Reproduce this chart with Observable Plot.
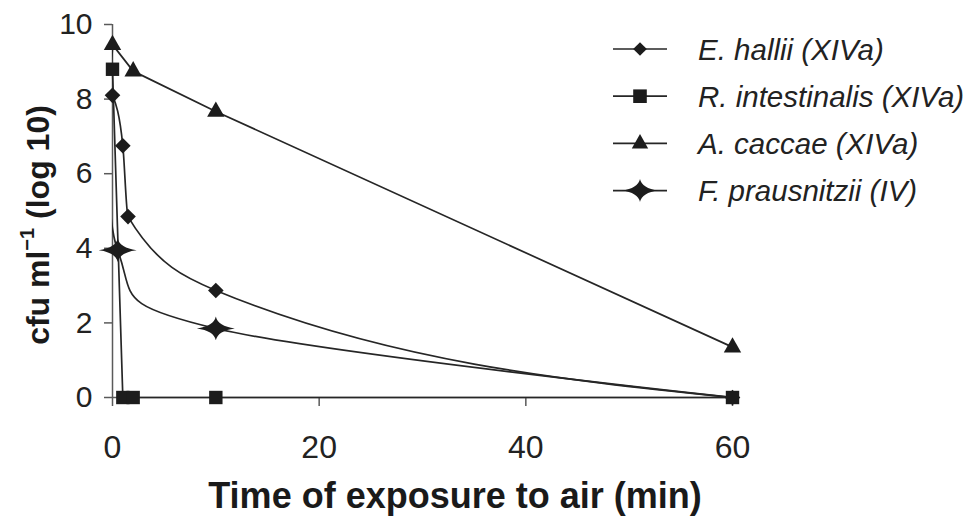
<!DOCTYPE html>
<html>
<head>
<meta charset="utf-8">
<script src="https://cdn.jsdelivr.net/npm/d3@7"></script>
<script src="https://cdn.jsdelivr.net/npm/@observablehq/plot@0.6"></script>
<style>
  html, body { margin: 0; padding: 0; background: #fff; }
  #chart { position: relative; width: 973px; height: 528px; }
</style>
</head>
<body>
<div id="chart"></div>
<script>
// Survival of anaerobic gut bacteria after exposure to air
const seriesNames = ["E. hallii (XIVa)", "R. intestinalis (XIVa)", "A. caccae (XIVa)", "F. prausnitzii (IV)"];

const halliiTime = [0, 1, 1.5, 10, 60];
const halliiCfu = [8.1, 6.75, 4.85, 2.87, 0];

const intestinalisTime = [0, 1, 2, 10, 60];
const intestinalisCfu = [8.8, 0, 0, 0, 0];

const caccaeTime = [0, 2, 10, 60];
const caccaeCfu = [9.46, 8.75, 7.67, 1.35];

const prausnitziiTime = [0, 0.5, 10, 60];
const prausnitziiCfu = [9.35, 3.95, 1.85, 0];

const xTicks = [0, 20, 40, 60];
const yTicks = [0, 2, 4, 6, 8, 10];

const toRows = (times, values) => times.map((t, i) => ({time: t, cfu: values[i]}));
const hallii = toRows(halliiTime, halliiCfu);
const intestinalis = toRows(intestinalisTime, intestinalisCfu);
const caccae = toRows(caccaeTime, caccaeCfu);
const prausnitzii = toRows(prausnitziiTime, prausnitziiCfu);

// Marker shapes; r is the half-extent in pixels
const half = (size) => Math.sqrt(size / Math.PI);
const diamondShape = {draw(ctx, size) {
  const r = half(size);
  ctx.moveTo(0, -r); ctx.lineTo(r, 0); ctx.lineTo(0, r); ctx.lineTo(-r, 0); ctx.closePath();
}};
const squareShape = {draw(ctx, size) {
  const r = half(size);
  ctx.rect(-r, -r, 2 * r, 2 * r);
}};
const triangleShape = {draw(ctx, size) {
  const r = half(size);
  ctx.moveTo(0, -1.15 * r); ctx.lineTo(r, 0.62 * r); ctx.lineTo(-r, 0.62 * r); ctx.closePath();
}};
const starShape = {draw(ctx, size) {
  const r = half(size), w = 2 * r, h = 1.25 * r, c = 0.22 * r;
  ctx.moveTo(w, 0);
  ctx.quadraticCurveTo(c, c, 0, h);
  ctx.quadraticCurveTo(-c, c, -w, 0);
  ctx.quadraticCurveTo(-c, -c, 0, -h);
  ctx.quadraticCurveTo(c, -c, w, 0);
  ctx.closePath();
}};

const ink = "#1c1c1c";
const axisGray = "#5a5a5a";
const font = "'Liberation Sans', Arial, sans-serif";

const lineStyle = {x: "time", y: "cfu", stroke: "#262626", strokeWidth: 1.7};
const dotStyle = {x: "time", y: "cfu", fill: ink, stroke: "none"};

const chart = Plot.plot({
  width: 973,
  height: 528,
  marginLeft: 112,
  marginRight: 241,
  marginTop: 24,
  marginBottom: 131,
  style: {fontFamily: font, color: "#222", background: "#fff", overflow: "visible"},
  x: {domain: [0, 60]},
  y: {domain: [0, 10]},
  marks: [
    Plot.ruleX([0], {stroke: axisGray, strokeWidth: 1.5}),
    Plot.ruleY([0], {stroke: axisGray, strokeWidth: 1.5}),
    Plot.axisX({ticks: xTicks, tickSize: 9, tickPadding: 29, fontSize: 32, label: null, stroke: axisGray, strokeWidth: 1.5, fill: "#222"}),
    Plot.axisY({ticks: yTicks, tickSize: 8, tickPadding: 12, fontSize: 30, label: null, stroke: axisGray, strokeWidth: 1.5, fill: "#222"}),
    // smoothed curves for the two gradual decays, straight segments otherwise
    Plot.line(hallii, {...lineStyle, curve: "monotone-x"}),
    Plot.line(prausnitzii, {...lineStyle, curve: "cardinal", tension: 0, clip: true}),
    Plot.line(caccae, {...lineStyle}),
    Plot.line(intestinalis, {...lineStyle}),
    // end points of the F. prausnitzii series carry no marker
    Plot.dot(prausnitzii.slice(1, -1), {...dotStyle, symbol: starShape, r: 9.5}),
    Plot.dot(hallii, {...dotStyle, symbol: diamondShape, r: 7.8}),
    Plot.dot(caccae, {...dotStyle, symbol: triangleShape, r: 8.7}),
    Plot.dot(intestinalis, {...dotStyle, symbol: squareShape, r: 6.7})
  ]
});

const svg = d3.select(chart);

// Axis titles
svg.append("text")
  .attr("x", 455).attr("y", 508)
  .attr("text-anchor", "middle")
  .attr("font-family", font).attr("font-weight", "bold").attr("font-size", 36)
  .attr("fill", "#1a1a1a")
  .text("Time of exposure to air (min)");

const yTitle = svg.append("text")
  .attr("transform", "translate(38,225) rotate(-90)")
  .attr("text-anchor", "middle").attr("dominant-baseline", "central")
  .attr("font-family", font).attr("font-weight", "bold").attr("font-size", 32)
  .attr("fill", "#1a1a1a");
yTitle.append("tspan").text("cfu ml");
yTitle.append("tspan").attr("dy", -11).attr("font-size", 20).text("\u22121");
yTitle.append("tspan").attr("dy", 11).text(" (log 10)");

// Legend
const legendShapes = [
  {shape: diamondShape, r: 6.8},
  {shape: squareShape, r: 6.8},
  {shape: triangleShape, r: 8.2},
  {shape: starShape, r: 9.2}
];
const legend = svg.append("g").attr("text-anchor", "start");
seriesNames.forEach((name, i) => {
  const g = legend.append("g").attr("transform", `translate(0,${49 + i * 47.2})`);
  g.append("line").attr("x1", 613).attr("x2", 667).attr("stroke", "#262626").attr("stroke-width", 1.7);
  g.append("path")
    .attr("transform", "translate(640,0)")
    .attr("d", d3.symbol(legendShapes[i].shape, Math.PI * legendShapes[i].r ** 2)())
    .attr("fill", ink);
  g.append("text")
    .attr("x", 698).attr("dominant-baseline", "central")
    .attr("text-anchor", "start")
    .attr("font-family", font).attr("font-style", "italic").attr("font-size", 29.5)
    .attr("fill", "#222")
    .text(name);
});

document.getElementById("chart").appendChild(chart);
</script>
</body>
</html>
